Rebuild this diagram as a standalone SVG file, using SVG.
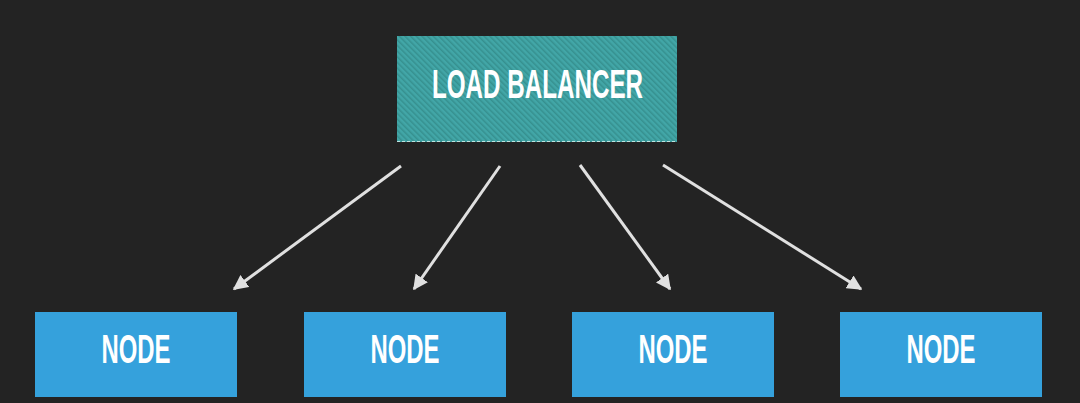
<svg xmlns="http://www.w3.org/2000/svg" width="1080" height="403" viewBox="0 0 1080 403">
<defs>
<pattern id="hatch" width="4" height="4" patternUnits="userSpaceOnUse" patternTransform="rotate(-45)">
<rect width="4" height="4" fill="#42a6a7"/>
<rect width="1.5" height="4" fill="#36908f"/>
</pattern>
<marker id="ah" viewBox="0 0 10 10" refX="9" refY="5" markerWidth="5" markerHeight="5" orient="auto" markerUnits="strokeWidth">
<path d="M0,0 L10,5 L0,10 z" fill="#e0e0e0"/>
</marker>
<style>
.lbl{font-family:"Liberation Sans",Arial,sans-serif;font-weight:bold;font-size:41px;fill:#ffffff}
.node{fill:#35a1dc}
.conn{stroke:#e0e0e0;stroke-width:3;fill:none;marker-end:url(#ah)}
</style>
</defs>
<rect width="1080" height="403" fill="#232323"/>
<g id="connectors">
<line class="conn" x1="401" y1="166" x2="234" y2="289"/>
<line class="conn" x1="500" y1="166" x2="414" y2="289"/>
<line class="conn" x1="580" y1="165" x2="670" y2="289"/>
<line class="conn" x1="663" y1="165" x2="861" y2="289"/>
</g>
<g id="load-balancer">
<rect x="397" y="36" width="280" height="106" fill="url(#hatch)"/>
<line x1="397" y1="141.5" x2="677" y2="141.5" stroke="#bfe3e0" stroke-width="1" stroke-dasharray="3 2"/>
<text class="lbl" x="537.5" y="98" text-anchor="middle" textLength="211" lengthAdjust="spacingAndGlyphs">LOAD BALANCER</text>
</g>
<g id="node1">
<rect class="node" x="35" y="312" width="202" height="85"/>
<text class="lbl" x="136" y="363" text-anchor="middle" textLength="69" lengthAdjust="spacingAndGlyphs">NODE</text>
</g>
<g id="node2">
<rect class="node" x="304" y="312" width="202" height="85"/>
<text class="lbl" x="405" y="363" text-anchor="middle" textLength="69" lengthAdjust="spacingAndGlyphs">NODE</text>
</g>
<g id="node3">
<rect class="node" x="572" y="312" width="202" height="85"/>
<text class="lbl" x="673" y="363" text-anchor="middle" textLength="69" lengthAdjust="spacingAndGlyphs">NODE</text>
</g>
<g id="node4">
<rect class="node" x="840" y="312" width="202" height="85"/>
<text class="lbl" x="941" y="363" text-anchor="middle" textLength="69" lengthAdjust="spacingAndGlyphs">NODE</text>
</g>
</svg>
